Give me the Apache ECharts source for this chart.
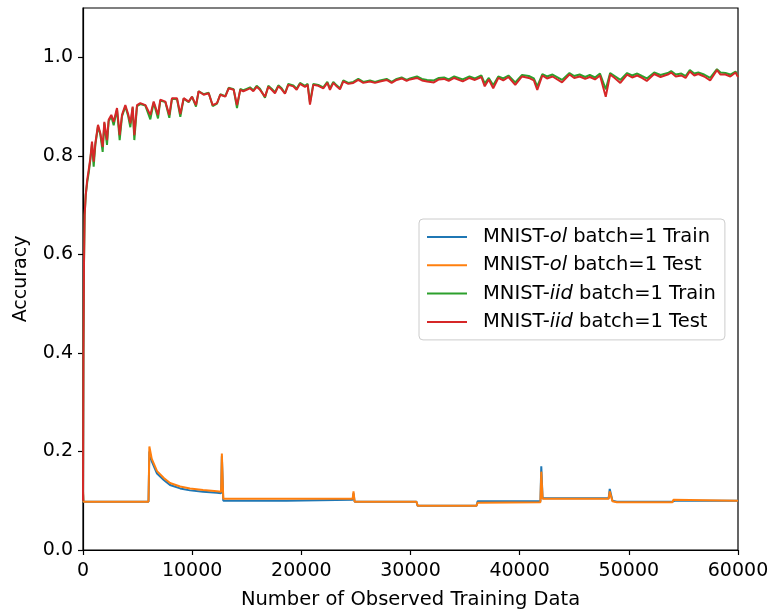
<!DOCTYPE html>
<html><head><meta charset="utf-8">
<script src="https://cdn.jsdelivr.net/npm/echarts@6/dist/echarts.min.js"></script>
<style>html,body{margin:0;padding:0;background:#fff}#c{width:773px;height:615px}</style>
</head><body><div id="c"></div>
<script>
const seriesNames = ['MNIST-ol batch=1 Train','MNIST-ol batch=1 Test','MNIST-iid batch=1 Train','MNIST-iid batch=1 Test'];
const xTicks = [0,10000,20000,30000,40000,50000,60000];
const yTicks = [0.0,0.2,0.4,0.6,0.8,1.0];

const olX = [0,50,6000,6080,6300,6780,7400,7970,8900,9800,11000,12270,12650,12720,12850,18650,18700,24700,24780,24880,30550,30650,36050,36150,41900,41980,42100,48150,48250,48500,48900,54000,54080,54200,60000];
const olTrain = [0.115,0.098,0.098,0.200,0.180,0.155,0.142,0.132,0.125,0.121,0.118,0.116,0.115,0.190,0.100,0.100,0.103,0.102,0.115,0.098,0.098,0.090,0.090,0.099,0.099,0.170,0.105,0.105,0.124,0.100,0.098,0.098,0.102,0.100,0.100];
const olTest = [0.120,0.098,0.098,0.210,0.185,0.160,0.146,0.136,0.129,0.125,0.122,0.119,0.118,0.196,0.104,0.104,0.103,0.104,0.119,0.098,0.098,0.090,0.090,0.096,0.097,0.159,0.104,0.104,0.119,0.099,0.097,0.097,0.102,0.100,0.100];

const iidX = [
  0,40,90,150,250,380,519,672,824,977,
  1130,1374,1588,1802,1954,2198,2351,2595,2809,3115,
  3359,3573,3878,4122,4336,4550,4703,4947,5252,5710,
  6168,6474,6870,7084,7542,7908,8152,8610,8915,9221,
  9679,9984,10350,10594,11052,11510,11877,12274,12579,13037,
  13343,13801,14106,14411,14686,14991,15297,15602,15907,16213,
  16671,16976,17281,17586,17892,18197,18502,18808,19266,19571,
  19876,20334,20578,20792,21097,21555,22013,22379,22623,22929,
  23234,23539,23845,24303,24761,25218,25676,26287,26744,27202,
  27813,28271,28729,29187,29645,29950,30590,31050,31522,32143,
  32600,33075,33500,34006,34782,35403,35900,36490,36800,37173,
  37577,38043,38500,38974,39595,40216,40837,41300,41613,42079,
  42500,43010,43880,44563,45000,45495,46000,46426,46900,47358,
  47885,48289,48700,49220,49842,50300,50773,51200,51643,52326,
  52900,53568,53878,54300,54810,55200,55586,56000,56362,56900,
  57449,58070,58400,58846,59300,59778,60000];
const iidTest = [
  0.10,0.40,0.58,0.68,0.72,0.75,0.771,0.795,0.829,0.788,
  0.825,0.863,0.846,0.818,0.869,0.832,0.873,0.883,0.869,0.897,
  0.842,0.883,0.903,0.886,0.866,0.900,0.842,0.903,0.907,0.903,
  0.883,0.910,0.883,0.914,0.910,0.883,0.917,0.917,0.885,0.917,
  0.910,0.920,0.903,0.931,0.924,0.927,0.903,0.907,0.924,0.920,
  0.937,0.934,0.903,0.934,0.931,0.934,0.937,0.931,0.940,0.934,
  0.920,0.940,0.934,0.927,0.941,0.935,0.926,0.944,0.941,0.934,
  0.946,0.940,0.944,0.904,0.944,0.942,0.937,0.948,0.934,0.948,
  0.941,0.935,0.951,0.946,0.948,0.954,0.948,0.951,0.948,0.951,
  0.954,0.948,0.954,0.957,0.952,0.955,0.958,0.953,0.951,0.949,
  0.955,0.956,0.952,0.958,0.951,0.958,0.954,0.960,0.941,0.955,
  0.937,0.958,0.953,0.960,0.944,0.961,0.958,0.953,0.934,0.963,
  0.957,0.961,0.949,0.965,0.958,0.961,0.956,0.960,0.955,0.963,
  0.920,0.965,0.958,0.948,0.965,0.959,0.963,0.958,0.952,0.966,
  0.960,0.965,0.969,0.961,0.963,0.958,0.971,0.963,0.966,0.961,
  0.953,0.974,0.965,0.965,0.961,0.969,0.960];
const iidTrain = [
  0.10,0.40,0.58,0.68,0.72,0.745,0.765,0.792,0.825,0.778,
  0.822,0.860,0.843,0.808,0.866,0.822,0.870,0.880,0.862,0.894,
  0.832,0.880,0.900,0.882,0.858,0.898,0.832,0.901,0.905,0.902,
  0.874,0.908,0.876,0.912,0.909,0.877,0.916,0.915,0.879,0.916,
  0.909,0.920,0.900,0.931,0.925,0.928,0.901,0.906,0.925,0.921,
  0.938,0.935,0.897,0.936,0.933,0.936,0.939,0.933,0.942,0.936,
  0.918,0.942,0.936,0.929,0.943,0.937,0.927,0.946,0.943,0.936,
  0.948,0.942,0.946,0.908,0.946,0.944,0.939,0.950,0.937,0.950,
  0.943,0.937,0.953,0.948,0.950,0.956,0.950,0.953,0.950,0.953,
  0.956,0.950,0.956,0.959,0.954,0.957,0.961,0.956,0.954,0.953,
  0.958,0.959,0.955,0.961,0.955,0.961,0.957,0.963,0.947,0.958,
  0.943,0.961,0.957,0.963,0.949,0.964,0.962,0.957,0.941,0.966,
  0.961,0.965,0.954,0.968,0.962,0.965,0.960,0.964,0.959,0.967,
  0.935,0.968,0.962,0.954,0.968,0.963,0.967,0.962,0.957,0.969,
  0.964,0.968,0.972,0.965,0.967,0.962,0.974,0.967,0.969,0.965,
  0.958,0.976,0.969,0.968,0.965,0.971,0.962];

const colors = ['#1f77b4','#ff7f0e','#2ca02c','#d62728'];
const pairs = (xs, ys) => xs.map((x,i)=>[x, ys[i]]);
const seriesData = [pairs(olX, olTrain), pairs(olX, olTest), pairs(iidX, iidTrain), pairs(iidX, iidTest)];

const chart = echarts.init(document.getElementById('c'), null, {renderer:'canvas'});
const font = 'DejaVu Sans';
chart.setOption({
  animation:false,
  backgroundColor:'#fff',
  color: colors,
  grid:{left:83, right:35, top:8, bottom:64, show:true, borderColor:'#000', borderWidth:1.2, backgroundColor:'transparent'},
  legend:{
    orient:'vertical', left:419, top:219,
    icon:'rect', itemWidth:40, itemHeight:2, itemGap:8.3,
    padding:[8,9,8,8],
    borderColor:'#cccccc', borderWidth:1, borderRadius:4, backgroundColor:'rgba(255,255,255,0.85)',
    data: seriesNames,
    formatter: function(name){
      const m = name.match(/^MNIST-(\w+) (.*)$/);
      return 'MNIST-{i|' + m[1] + '} ' + m[2];
    },
    textStyle:{fontFamily:font, fontSize:19.5, color:'#000', lineHeight:20, padding:[0,0,0,11],
      rich:{i:{fontFamily:font, fontSize:19.5, fontStyle:'italic', color:'#000', lineHeight:20}}}
  },
  xAxis:{
    type:'value', min:0, max:60000, interval:10000,
    name:'Number of Observed Training Data', nameLocation:'middle', nameGap:40,
    nameTextStyle:{fontFamily:font, fontSize:19.5, color:'#000'},
    axisLine:{show:true, lineStyle:{color:'#000', width:1.2}},
    axisTick:{show:true, inside:false, length:5, lineStyle:{color:'#000', width:1.2}},
    axisLabel:{fontFamily:font, fontSize:19, color:'#000', margin:12,
      formatter: v => xTicks.includes(v) ? String(v) : ''},
    splitLine:{show:false}
  },
  yAxis:{
    type:'value', min:0, max:1.1, interval:0.2,
    name:'Accuracy', nameLocation:'middle', nameGap:52,
    nameTextStyle:{fontFamily:font, fontSize:19, color:'#000'},
    axisLine:{show:true, lineStyle:{color:'#000', width:1.2}},
    axisTick:{show:true, inside:false, length:5, lineStyle:{color:'#000', width:1.2}},
    axisLabel:{fontFamily:font, fontSize:19, color:'#000', margin:10, showMaxLabel:false,
      formatter: v => yTicks.some(t=>Math.abs(t-v)<1e-9) ? v.toFixed(1) : ''},
    splitLine:{show:false}
  },
  series: seriesNames.map((n,i)=>({
    name:n, type:'line', data:seriesData[i], showSymbol:false, symbol:'none',
    lineStyle:{width:2, color:colors[i]}, itemStyle:{color:colors[i]}, z:2+i
  }))
});
</script></body></html>
